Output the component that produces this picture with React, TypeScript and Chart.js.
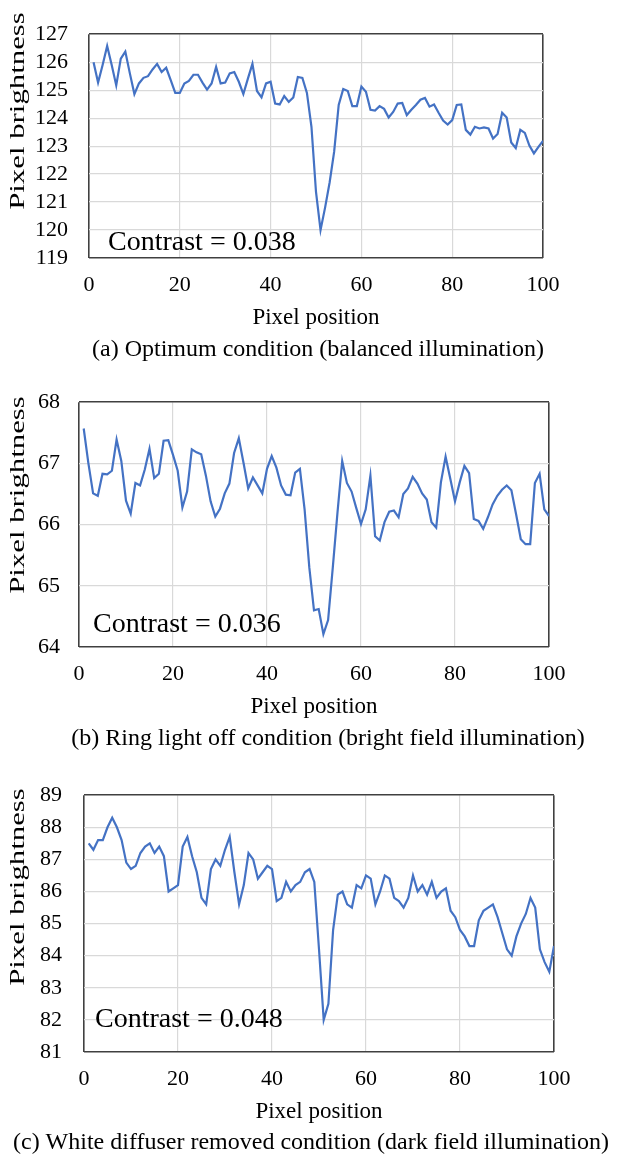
import React, { useEffect, useRef } from "react";
import { Chart, registerables } from "chart.js";

Chart.register(...registerables);

// ---------- DATA ----------
const pixelPositions: number[] = Array.from({ length: 100 }, (_, i) => i + 1);

const brightnessOptimum: number[] = [
  126.0, 125.27, 125.9, 126.58, 125.9, 125.17, 126.13, 126.38, 125.6, 124.86,
  125.24, 125.44, 125.5, 125.74, 125.94, 125.65, 125.8, 125.36, 124.9, 124.9,
  125.24, 125.33, 125.55, 125.55, 125.27, 125.02, 125.24, 125.83, 125.24, 125.27,
  125.6, 125.65, 125.3, 124.86, 125.41, 125.94, 124.97, 124.74, 125.24, 125.3,
  124.52, 124.49, 124.79, 124.58, 124.74, 125.47, 125.44, 124.9, 123.69, 121.36,
  120.0, 120.8, 121.7, 122.8, 124.47, 125.04, 124.97, 124.43, 124.43, 125.13,
  124.94, 124.3, 124.27, 124.43, 124.33, 124.02, 124.22, 124.52, 124.54, 124.11,
  124.3, 124.47, 124.66, 124.72, 124.41, 124.49, 124.19, 123.91, 123.77, 123.93,
  124.47, 124.49, 123.58, 123.41, 123.69, 123.63, 123.67, 123.63, 123.27, 123.43,
  124.19, 124.02, 123.13, 122.93, 123.58, 123.47, 123.02, 122.74, 122.97, 123.19,
];

const brightnessRingOff: number[] = [
  67.57, 67.0, 66.51, 66.47, 66.83, 66.82, 66.88, 67.39, 67.04, 66.39,
  66.18, 66.68, 66.64, 66.9, 67.24, 66.76, 66.83, 67.37, 67.38, 67.14,
  66.88, 66.28, 66.54, 67.23, 67.18, 67.15, 66.8, 66.38, 66.13, 66.26,
  66.51, 66.67, 67.17, 67.41, 67.01, 66.59, 66.77, 66.64, 66.51, 66.91,
  67.12, 66.93, 66.64, 66.49, 66.48, 66.85, 66.91, 66.25, 65.3, 64.6,
  64.62, 64.21, 64.44, 65.3, 66.2, 67.04, 66.68, 66.54, 66.27, 66.01,
  66.25, 66.8, 65.81, 65.74, 66.04, 66.21, 66.23, 66.12, 66.5, 66.59,
  66.78, 66.67, 66.51, 66.41, 66.04, 65.95, 66.69, 67.11, 66.75, 66.38,
  66.69, 66.96, 66.84, 66.09, 66.06, 65.93, 66.12, 66.33, 66.47, 66.57,
  66.64, 66.56, 66.17, 65.76, 65.68, 65.68, 66.68, 66.83, 66.25, 66.14,
];

const brightnessNoDiffuser: number[] = [
  87.5, 87.3, 87.6, 87.6, 88.0, 88.3, 88.0, 87.6, 86.9, 86.7,
  86.8, 87.2, 87.4, 87.5, 87.2, 87.4, 87.1, 86.0, 86.1, 86.2,
  87.4, 87.7, 87.1, 86.6, 85.8, 85.6, 86.7, 87.0, 86.8, 87.3,
  87.7, 86.6, 85.6, 86.2, 87.2, 87.0, 86.4, 86.6, 86.8, 86.7,
  85.7, 85.8, 86.3, 86.0, 86.2, 86.3, 86.6, 86.7, 86.3, 84.2,
  82.0, 82.5, 84.8, 85.9, 86.0, 85.6, 85.5, 86.2, 86.1, 86.5,
  86.4, 85.6, 86.0, 86.5, 86.4, 85.8, 85.7, 85.5, 85.8, 86.5,
  86.0, 86.2, 85.9, 86.3, 85.8, 86.0, 86.1, 85.4, 85.2, 84.8,
  84.6, 84.3, 84.3, 85.1, 85.4, 85.5, 85.6, 85.2, 84.7, 84.2,
  84.0, 84.6, 85.0, 85.3, 85.8, 85.5, 84.2, 83.8, 83.5, 84.3,
];

const xTickStep = 20;
const xRange = [0, 100];
const yRanges = [
  [119, 127],
  [64, 68],
  [81, 89],
];
const contrastLabels = ["Contrast = 0.038", "Contrast = 0.036", "Contrast = 0.048"];
const captions = [
  "(a) Optimum condition (balanced illumination)",
  "(b) Ring light off condition (bright field illumination)",
  "(c) White diffuser removed condition (dark field illumination)",
];
const xAxisTitle = "Pixel position";
const yAxisTitle = "Pixel brightness";
const seriesList = [brightnessOptimum, brightnessRingOff, brightnessNoDiffuser];

// ---------- LAYOUT (page coordinates) ----------
const LAYOUT = [
  { top: 0, height: 370, plotLeft: 89, plotRight: 543, plotTop: 17, plotBottom: 258, yTickPad: 21, yTitleY: 111, contrastX: 108, contrastY: 250, captionX: 318, captionY: 350 },
  { top: 370, height: 390, plotLeft: 79, plotRight: 549, plotTop: 394, plotBottom: 647, yTickPad: 19, yTitleY: 495, contrastX: 93, contrastY: 632, captionX: 328, captionY: 739 },
  { top: 760, height: 401, plotLeft: 84, plotRight: 554, plotTop: 775, plotBottom: 1052, yTickPad: 22, yTitleY: 887, contrastX: 95, contrastY: 1027, captionX: 311, captionY: 1143 },
];

const FONT = '"Liberation Serif", "Times New Roman", serif';
const WIDTH = 624;

const panelText = {
  id: "panelText",
  afterDraw(chart: any, _args: any, opts: any) {
    const ctx = chart.ctx;
    ctx.save();
    ctx.fillStyle = "#000";
    ctx.font = `28px ${FONT}`;
    ctx.textAlign = "left";
    ctx.textBaseline = "alphabetic";
    ctx.fillText(opts.contrast, opts.contrastX, opts.contrastY);
    ctx.font = `24px ${FONT}`;
    ctx.textAlign = "center";
    ctx.textBaseline = "middle";
    ctx.fillText(opts.caption, opts.captionX, opts.captionY);
    ctx.translate(opts.yTitleX, opts.yTitleY);
    ctx.rotate(-Math.PI / 2);
    ctx.scale(1.4, 1);
    ctx.font = `22px ${FONT}`;
    ctx.fillText(opts.yTitle, 0, 0);
    ctx.restore();
  },
};

function Panel({ idx }: { idx: number }) {
  const ref = useRef<HTMLCanvasElement | null>(null);
  const L = LAYOUT[idx];
  useEffect(() => {
    if (!ref.current) return;
    const [yMin, yMax] = yRanges[idx];
    const values = seriesList[idx];
    const plotBottom = L.plotBottom - L.top;
    const xH = L.height - plotBottom;
    const xTitleCenter = plotBottom + 60;
    const xTitlePadBottom = L.height - xTitleCenter - 13.8;
    const edge = "#404040";
    const light = "#d9d9d9";
    const chart = new Chart(ref.current, {
      type: "line",
      data: {
        datasets: [
          {
            data: pixelPositions.map((x, i) => ({ x, y: values[i] })),
            borderColor: "#4472C4",
            borderWidth: 2.2,
            pointRadius: 0,
            tension: 0,
            fill: false,
          },
        ],
      },
      options: {
        responsive: false,
        animation: false,
        devicePixelRatio: 1,
        layout: { padding: { top: L.plotTop - L.top, right: WIDTH - L.plotRight, left: 0, bottom: 0 } },
        plugins: {
          legend: { display: false },
          tooltip: { enabled: false },
          panelText: {
            contrast: contrastLabels[idx],
            contrastX: L.contrastX,
            contrastY: L.contrastY - L.top,
            caption: captions[idx],
            captionX: L.captionX,
            captionY: L.captionY - L.top,
            yTitle: yAxisTitle,
            yTitleX: 18,
            yTitleY: L.yTitleY - L.top,
          },
        } as any,
        scales: {
          x: {
            type: "linear",
            min: xRange[0],
            max: xRange[1],
            ticks: { stepSize: xTickStep, font: { family: FONT, size: 22 }, color: "#000", padding: 13.8, maxRotation: 0, autoSkip: false },
            grid: {
              drawTicks: false,
              color: (c: any) => (c.tick && (c.tick.value === xRange[0] || c.tick.value === xRange[1]) ? edge : light),
              lineWidth: (c: any) => (c.tick && (c.tick.value === xRange[0] || c.tick.value === xRange[1]) ? 1.6 : 1.2),
            },
            border: { display: false },
            title: { display: true, text: xAxisTitle, font: { family: FONT, size: 23 }, color: "#000", padding: { top: 0, bottom: xTitlePadBottom } },
            afterFit: (s: any) => {
              s.height = xH;
            },
          },
          y: {
            min: yMin,
            max: yMax,
            ticks: { stepSize: 1, autoSkip: false, font: { family: FONT, size: 22 }, color: "#000", padding: L.yTickPad },
            grid: {
              drawTicks: false,
              color: (c: any) => (c.tick && (c.tick.value === yMin || c.tick.value === yMax) ? edge : light),
              lineWidth: (c: any) => (c.tick && (c.tick.value === yMin || c.tick.value === yMax) ? 1.6 : 1.2),
            },
            border: { display: false },
            afterFit: (s: any) => {
              s.width = L.plotLeft;
            },
          },
        },
      } as any,
      plugins: [panelText as any],
    });
    return () => chart.destroy();
  }, [idx]);
  return (
    <canvas
      ref={ref}
      width={WIDTH}
      height={L.height}
      style={{ position: "absolute", left: 0, top: L.top, width: WIDTH, height: L.height, display: "block" }}
    />
  );
}

export default function App() {
  return (
    <div style={{ position: "absolute", left: 0, top: 0, width: WIDTH, height: 1161, background: "#fff" }}>
      <Panel idx={0} />
      <Panel idx={1} />
      <Panel idx={2} />
    </div>
  );
}
